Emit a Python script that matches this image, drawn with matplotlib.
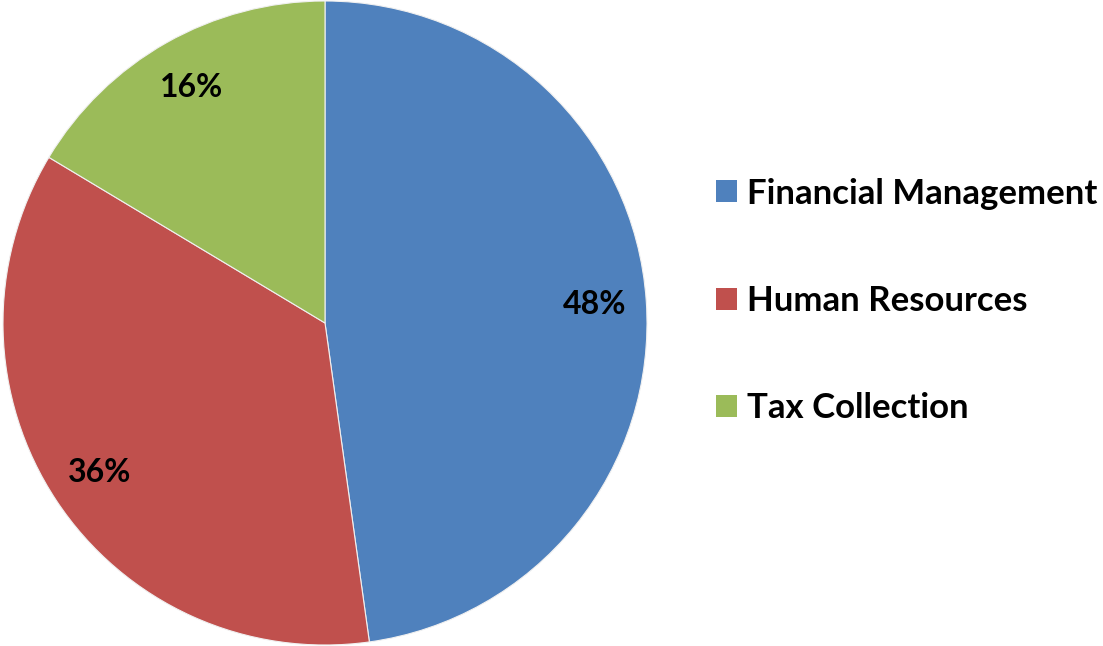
import matplotlib.pyplot as plt
from matplotlib.patches import Patch

categories = ["Financial Management", "Human Resources", "Tax Collection"]
shares = [47.8, 35.8, 16.4]
colors = ["#4F81BD", "#C0504D", "#9BBB59"]

plt.rcParams['font.family'] = ['Lato', 'DejaVu Sans']

fig = plt.figure(figsize=(11.03, 6.46), dpi=100)
ax = fig.add_axes([3 / 1103, 1 / 646, 644 / 1103, 644 / 646])

wedges, texts, autotexts = ax.pie(
    shares, colors=colors, startangle=90, counterclock=False,
    autopct='%1.0f%%', pctdistance=0.84,
    wedgeprops=dict(edgecolor='#f0f0f0', linewidth=0.8),
)
for t in autotexts:
    t.set_fontsize(23)
    t.set_fontweight('bold')
    t.set_color('black')
ax.set_aspect('equal')
ax.set_xlim(-1, 1)
ax.set_ylim(-1, 1)

handles = [Patch(facecolor=c, edgecolor='none') for c in colors]
leg = fig.legend(handles, categories, loc='center left',
                 bbox_to_anchor=(685 / 1103, 1 - 301 / 646),
                 frameon=False, handlelength=0.6, handleheight=0.6,
                 handletextpad=0.28, labelspacing=2.17,
                 prop={'size': 25, 'weight': 'bold'})

fig.savefig('out.png', dpi=100)
